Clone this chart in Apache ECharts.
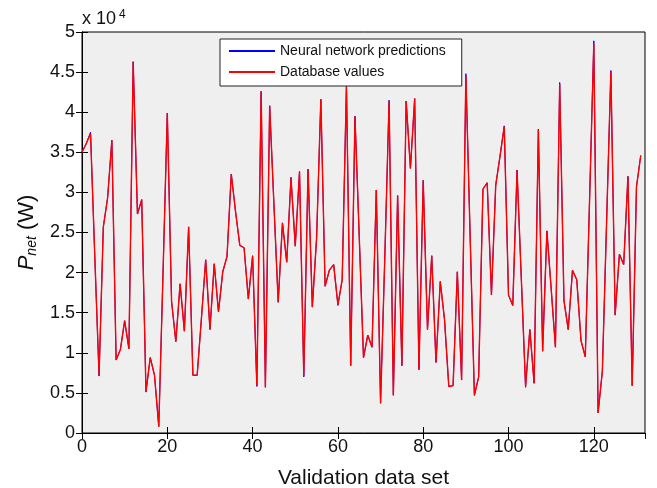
<!DOCTYPE html>
<html>
<head>
<meta charset="utf-8">
<script src="https://cdn.jsdelivr.net/npm/echarts@6/dist/echarts.min.js"></script>
<style>
html,body{margin:0;padding:0;background:#fff;}
#chart{width:657px;height:488px;}
</style>
</head>
<body>
<div id="chart"></div>
<script>
// Validation data set index 0..131, values in thousands of W
const databaseValues = [
35.0,36.1,37.3,22.0,7.2,25.7,29.3,36.5,9.1,10.4,
14.0,10.5,46.3,27.3,29.1,5.2,9.4,7.2,0.8,20.0,
39.9,16.4,11.4,18.6,12.7,25.7,7.2,7.2,14.3,21.6,
12.9,21.1,15.1,20.1,22.0,32.3,27.6,23.4,23.1,16.7,
22.1,5.9,42.6,5.7,40.8,28.5,16.3,26.2,21.3,31.8,
23.3,32.6,7.1,32.9,15.7,24.3,41.6,18.3,20.3,21.0,
16.0,19.1,43.2,8.4,39.5,24.5,9.4,12.2,10.7,30.3,
3.7,22.0,41.4,4.7,29.6,8.4,41.4,33.0,41.7,7.9,
31.5,12.9,22.1,8.8,18.9,14.1,5.8,5.9,20.1,6.6,
44.6,24.6,4.7,7.0,30.4,31.2,17.2,30.9,34.5,38.2,
17.2,15.9,32.8,19.3,5.8,12.9,6.2,37.8,10.2,25.2,
18.0,10.7,43.5,16.5,12.9,20.3,19.1,11.5,9.5,29.0,
48.6,2.5,7.7,26.4,45.1,14.7,22.3,21.0,32.0,5.9,
30.7,34.6
];
const predictionValues = [
35.0,36.1,37.5,22.0,7.1,25.7,29.3,36.5,9.1,10.4,
14.0,10.5,46.3,27.3,29.1,5.1,9.4,7.2,0.8,20.0,
39.9,16.4,11.4,18.6,12.7,25.7,7.2,7.2,14.3,21.6,
12.9,21.1,15.1,20.1,22.0,32.3,27.6,23.4,23.1,16.7,
22.1,5.8,42.6,5.7,40.8,28.5,16.3,26.2,21.3,31.9,
23.3,32.6,7.0,32.9,15.7,24.3,41.6,18.3,20.3,21.0,
15.9,19.1,43.5,8.4,39.5,24.5,9.4,12.2,10.7,30.3,
3.7,22.0,41.5,4.7,29.6,8.4,41.4,33.0,41.7,7.9,
31.5,12.9,22.1,8.8,18.9,14.1,5.8,5.9,20.1,6.6,
44.8,24.6,4.7,7.0,30.4,31.2,17.2,30.9,34.5,38.3,
17.2,15.9,32.8,19.3,5.7,12.9,6.2,37.9,10.2,25.2,
18.0,10.7,43.7,16.5,12.9,20.3,19.1,11.5,9.5,29.0,
48.9,2.5,7.7,26.4,45.2,14.7,22.3,21.0,32.0,5.9,
30.7,34.6
];
const xTicks = [0,20,40,60,80,100,120];
const yTicks = [0,0.5,1,1.5,2,2.5,3,3.5,4,4.5,5];
const seriesNames = ['Neural network predictions','Database values'];

const toPairs = arr => arr.map((v,i) => [i, v*1000]);

const chart = echarts.init(document.getElementById('chart'), null, {renderer:'canvas'});
const FONT = 'Liberation Sans, Arial, sans-serif';
const tickStyle = {show:true, inside:true, length:6, lineStyle:{color:'#000', width:1}};
const lineStyleAxis = {show:true, lineStyle:{color:'#000', width:1}};

chart.setOption({
  animation:false,
  backgroundColor:'#fff',
  textStyle:{fontFamily:FONT},
  grid:{left:82, right:12, top:32, bottom:55, outerBoundsMode:'none', containLabel:false,
    show:true, backgroundColor:'#efefef', borderColor:'#000', borderWidth:1},
  legend:{
    orient:'vertical', left:220, top:39,
    padding:[5,16,7,8], itemGap:7, itemWidth:46, itemHeight:14,
    backgroundColor:'#fff', borderColor:'#222', borderWidth:1, borderRadius:0,
    itemStyle:{opacity:0},
    textStyle:{fontSize:14, color:'#111', fontFamily:FONT},
    data:seriesNames
  },
  graphic:[{
    type:'text', left:82, top:9,
    style:{
      text:'{a|x 10}{b|4}',
      rich:{
        a:{fontSize:18, fontFamily:FONT, fill:'#111', padding:[8,0,0,0]},
        b:{fontSize:12, fontFamily:FONT, fill:'#111', padding:[0,0,0,3]}
      }
    }
  }],
  xAxis:[{
    type:'value', position:'bottom', min:0, max:132, interval:20,
    axisLine:lineStyleAxis, axisTick:tickStyle, splitLine:{show:false},
    axisLabel:{fontSize:18, color:'#111', margin:5, fontFamily:FONT, showMaxLabel:false,
      formatter:v => xTicks.includes(v) ? String(v) : ''},
    name:'Validation data set', nameLocation:'middle', nameGap:35,
    nameTextStyle:{fontSize:21, color:'#111', fontFamily:FONT}
  },{
    type:'value', position:'top', min:0, max:132, interval:20,
    axisLine:lineStyleAxis, axisTick:tickStyle, splitLine:{show:false},
    axisLabel:{show:false}
  }],
  yAxis:[{
    type:'value', position:'left', min:0, max:50000, interval:5000,
    axisLine:lineStyleAxis, axisTick:tickStyle, splitLine:{show:false},
    axisLabel:{fontSize:18, color:'#111', margin:7, fontFamily:FONT,
      formatter:v => { const t = v/10000; return yTicks.includes(t) ? String(t) : ''; }},
    name:'{p|P}{s|net}{n| (W)}', nameLocation:'middle', nameGap:35, nameRotate:90,
    nameTextStyle:{
      color:'#111', fontFamily:FONT,
      rich:{
        p:{fontSize:22, fontStyle:'italic', fontFamily:FONT, color:'#111'},
        s:{fontSize:14, fontStyle:'italic', fontFamily:FONT, color:'#111', padding:[10,0,0,0]},
        n:{fontSize:22, fontFamily:FONT, color:'#111'}
      }
    }
  },{
    type:'value', position:'right', min:0, max:50000, interval:5000,
    axisLine:lineStyleAxis, axisTick:tickStyle, splitLine:{show:false},
    axisLabel:{show:false}
  }],
  series:[{
    name:seriesNames[0], type:'line', symbol:'none', data:toPairs(predictionValues),
    lineStyle:{color:'#0000ff', width:1}, itemStyle:{color:'#0000ff'}
  },{
    name:seriesNames[1], type:'line', symbol:'none', data:toPairs(databaseValues),
    lineStyle:{color:'#ff0000', width:1.4}, itemStyle:{color:'#ff0000'}
  }]
});
</script>
</body>
</html>
